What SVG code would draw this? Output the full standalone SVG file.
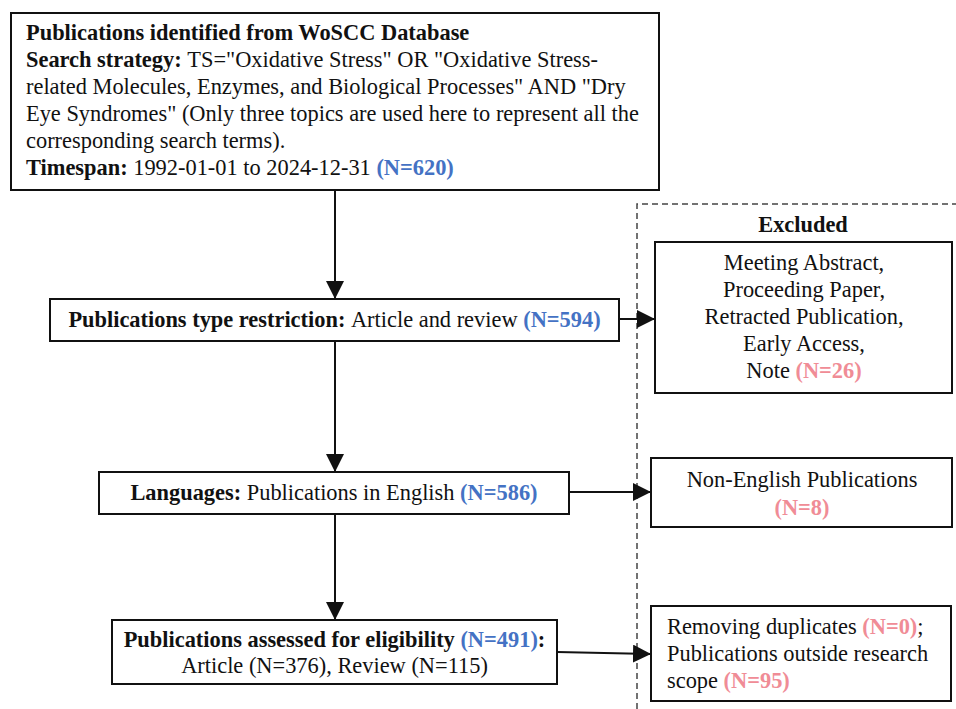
<svg xmlns="http://www.w3.org/2000/svg" width="956" height="709" viewBox="0 0 956 709">
<style>
text{font-family:"Liberation Serif","Times New Roman",serif;font-size:22.4px;fill:#111}
.b{font-weight:bold}
.blue{fill:#4472C4;font-weight:bold}
.pink{fill:#F08C96;font-weight:bold}
.box{fill:#fff;stroke:#111;stroke-width:2}
.conn{stroke:#111;stroke-width:2;fill:none}
.dash{stroke:#444;stroke-width:1.5;fill:none;stroke-dasharray:6 4}
.c{text-anchor:middle}
</style>
<defs>
<marker id="ah" markerUnits="userSpaceOnUse" markerWidth="20" markerHeight="20" refX="18" refY="9" orient="auto">
<path d="M0,0 L18,9 L0,18 z" fill="#111"/>
</marker>
</defs>
<rect width="956" height="709" fill="#fff"/>
<g id="excluded-region">
<path class="dash" d="M637,709 V204 H956"/>
<text class="b c" x="803" y="232">Excluded</text>
</g>
<g id="connectors">
<line class="conn" x1="335" y1="190" x2="335" y2="299" marker-end="url(#ah)"/>
<line class="conn" x1="335" y1="341" x2="335" y2="472" marker-end="url(#ah)"/>
<line class="conn" x1="335" y1="514" x2="335" y2="620" marker-end="url(#ah)"/>
<line class="conn" x1="619" y1="319" x2="655" y2="319" marker-end="url(#ah)"/>
<line class="conn" x1="569" y1="492" x2="651" y2="492" marker-end="url(#ah)"/>
<line class="conn" x1="557" y1="652" x2="651" y2="654" marker-end="url(#ah)"/>
</g>
<g id="n-identified">
<rect class="box" x="11" y="13" width="648" height="177"/>
<text x="26" y="40"><tspan class="b">Publications identified from WoSCC Database</tspan></text>
<text x="26" y="67"><tspan class="b">Search strategy: </tspan>TS="Oxidative Stress" OR "Oxidative Stress-</text>
<text x="26" y="94">related Molecules, Enzymes, and Biological Processes" AND "Dry</text>
<text x="26" y="121">Eye Syndromes" (Only three topics are used here to represent all the</text>
<text x="26" y="148">corresponding search terms).</text>
<text x="26" y="175"><tspan class="b">Timespan: </tspan>1992-01-01 to 2024-12-31 <tspan class="blue">(N=620)</tspan></text>
</g>
<g id="n-type">
<rect class="box" x="50" y="299" width="569" height="42"/>
<text class="c" x="334.5" y="327"><tspan class="b">Publications type restriction: </tspan>Article and review <tspan class="blue">(N=594)</tspan></text>
</g>
<g id="n-type-excl">
<rect class="box" x="655" y="242" width="297" height="151"/>
<text class="c" x="804" y="270">Meeting Abstract,</text>
<text class="c" x="804" y="297">Proceeding Paper,</text>
<text class="c" x="804" y="324">Retracted Publication,</text>
<text class="c" x="804" y="351">Early Access,</text>
<text class="c" x="804" y="378">Note <tspan class="pink">(N=26)</tspan></text>
</g>
<g id="n-lang">
<rect class="box" x="99" y="472" width="470" height="42"/>
<text class="c" x="334" y="500"><tspan class="b">Languages: </tspan>Publications in English <tspan class="blue">(N=586)</tspan></text>
</g>
<g id="n-lang-excl">
<rect class="box" x="651" y="458" width="301" height="69"/>
<text class="c" x="802" y="487">Non-English Publications</text>
<text class="c" x="802" y="515"><tspan class="pink">(N=8)</tspan></text>
</g>
<g id="n-eligible">
<rect class="box" x="112" y="620" width="445" height="64"/>
<text class="c" x="334.5" y="647"><tspan class="b">Publications assessed for eligibility </tspan><tspan class="blue">(N=491)</tspan><tspan class="b">:</tspan></text>
<text class="c" x="334.5" y="673">Article (N=376), Review (N=115)</text>
</g>
<g id="n-eligible-excl">
<rect class="box" x="651" y="606" width="300" height="95"/>
<text x="667" y="634">Removing duplicates <tspan class="pink">(N=0)</tspan>;</text>
<text x="667" y="661">Publications outside research</text>
<text x="667" y="688">scope <tspan class="pink">(N=95)</tspan></text>
</g>
</svg>
